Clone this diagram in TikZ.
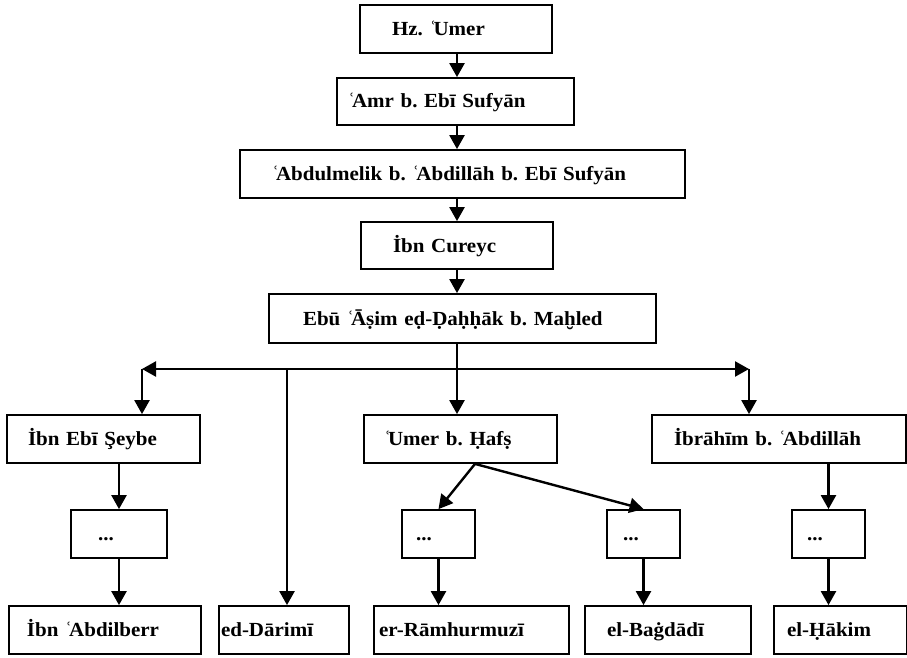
\documentclass[tikz,border=0pt]{standalone}
\usepackage{fontspec}
\setmainfont{Liberation Serif}[FakeStretch=1.05]
\usetikzlibrary{arrows.meta}
\frenchspacing
\newcommand{\ain}{ʿ\kern-3pt}
\tikzset{
	box/.style={draw,line width=1.8pt,minimum height=48pt,inner ysep=0pt,
		align=left,text height=16pt,text depth=3pt},
	arr/.style={line width=2.4pt,->}
}

\begin{document}
\begin{tikzpicture}[x=1pt,y=-1pt,
		font=\fontsize{20pt}{23pt}\selectfont\bfseries,
		>={Triangle[length=14pt,width=15pt]}]
			\useasboundingbox (0,0) rectangle (907,658);
			
			\node[box,text width=128pt,inner xsep=32pt] (umer) at (456,29) {Hz. \ain Umer};
			\node[box,text width=215pt,inner xsep=11pt,minimum height=47pt] (amr) at (455.5,101.5) {\ain Amr b. Ebī Sufyān};
			\node[box,text width=381pt,inner xsep=32pt] (abdulmelik) at (462.5,174) {\ain Abdulmelik b. \ain Abdillāh b. Ebī Sufyān};
			\node[box,text width=128pt,inner xsep=32pt,minimum height=47pt] (cureyc) at (457,245.5) {İbn Cureyc};
			\node[box,text width=319pt,inner xsep=34pt,minimum height=49pt] (ebuasim) at (462.5,318.5) {Ebū \ain Āṣim eḍ-Ḍaḥḥāk b. Maḫled};
			
			\node[box,text width=151pt,inner xsep=21pt] (seybe) at (103.5,439) {İbn Ebī Şeybe};
			\node[box,text width=153pt,inner xsep=20pt] (hafs) at (460.5,439) {\ain Umer b. Ḥafṣ};
			\node[box,text width=210pt,inner xsep=22pt] (ibrahim) at (779,439) {İbrāhīm b. \ain Abdillāh};
			
			\node[box,text width=42pt,inner xsep=27pt] (dotsa) at (119,534) {...};
			\node[box,text width=45pt,inner xsep=14pt] (dotsb) at (438.5,534) {...};
			\node[box,text width=41pt,inner xsep=16pt] (dotsc) at (643.5,534) {...};
			\node[box,text width=43pt,inner xsep=15pt] (dotsd) at (828.5,534) {...};
			
			\node[box,text width=156pt,inner xsep=18pt] (abdilberr) at (105,630) {İbn \ain Abdilberr};
			\node[box,text width=126pt,inner xsep=2pt] (darimi) at (284,630) {ed-Dārimī};
			\node[box,text width=185pt,inner xsep=5pt] (ramhurmuzi) at (471.5,630) {er-Rāmhurmuzī};
			\node[box,text width=122pt,inner xsep=22pt] (bagdadi) at (668,630) {el-Baġdādī};
			\node[box,text width=107pt,inner xsep=13pt] (hakim) at (840.5,630) {el-Ḥākim};
			
			\coordinate (spine) at (457,0);
			\coordinate (lft) at (142,369);
			\coordinate (rgt) at (749,369);
			\coordinate (drm) at (287,369);
			
			\draw[arr] (umer.south -| spine) -- (amr.north -| spine);
			\draw[arr] (amr.south -| spine) -- (abdulmelik.north -| spine);
			\draw[arr] (abdulmelik.south -| spine) -- (cureyc.north -| spine);
			\draw[arr] (cureyc.south -| spine) -- (ebuasim.north -| spine);
			\draw[arr] (ebuasim.south -| spine) -- (hafs.north -| spine);
			
			\draw[line width=2.4pt,<->] (lft) -- (rgt);
			\draw[arr] (lft) -- (lft |- seybe.north);
			\draw[arr] (rgt) -- (rgt |- ibrahim.north);
			\draw[arr] (drm) -- (drm |- darimi.north);
			
			\draw[arr] (dotsa.north |- seybe.south) -- (dotsa.north);
			\draw[arr] ([xshift=14.5pt]hafs.south) -- (dotsb.north);
			\draw[arr] ([xshift=14.5pt]hafs.south) -- (dotsc.north);
			\draw[arr] (dotsd.north |- ibrahim.south) -- (dotsd.north);
			
			\draw[arr] (dotsa.south) -- (dotsa.south |- abdilberr.north);
			\draw[arr] (dotsb.south) -- (dotsb.south |- ramhurmuzi.north);
			\draw[arr] (dotsc.south) -- (dotsc.south |- bagdadi.north);
			\draw[arr] (dotsd.south) -- (dotsd.south |- hakim.north);
		\end{tikzpicture}
\end{document}
